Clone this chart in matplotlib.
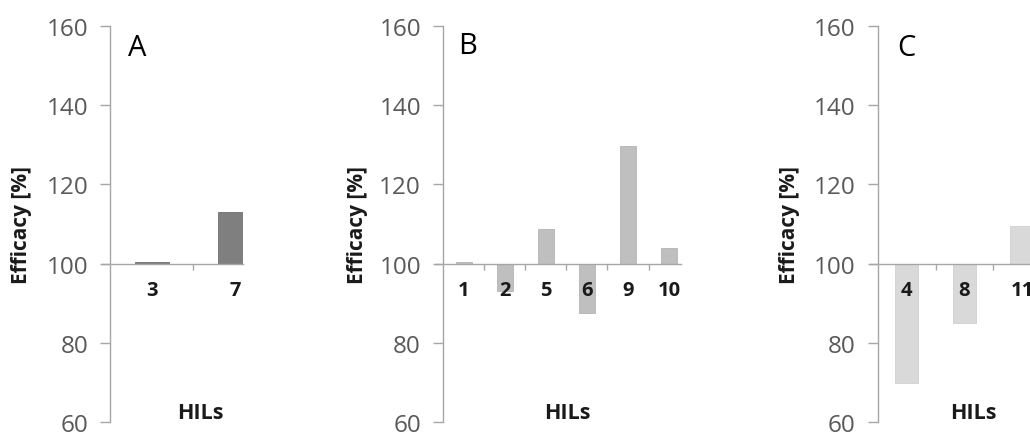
import matplotlib
matplotlib.use("Agg")
import matplotlib.pyplot as plt
from matplotlib.ticker import FixedLocator, NullFormatter

# ---- data ----
labels_a = ["3", "7"]
values_a = [100.4, 113.0]
labels_b = ["1", "2", "5", "6", "9", "10"]
values_b = [100.4, 93.0, 108.7, 87.4, 129.6, 104.0]
labels_c = ["4", "8", "11"]
values_c = [69.9, 84.9, 109.4]
panel_letters = ["A", "B", "C"]
yticks = [60, 80, 100, 120, 140, 160]

W, H = 1030, 435
fig = plt.figure(figsize=(W / 100, H / 100), dpi=100)
plt.rcParams['font.family'] = ['Open Sans', 'DejaVu Sans']

GRAY_AX = "#a6a6a6"
GRAY_TXT = "#595959"

specs = [
    dict(l=102, r=243, x0=-0.6, x1=1.096, color="#7f7f7f", edge="#6e6e6e",
         labels=labels_a, values=values_a, ylab_x=22, let_x=137, let_y=49, hils_x=200),
    dict(l=435, r=681, x0=-0.7, x1=5.29, color="#bfbfbf", edge="#b3b3b3",
         labels=labels_b, values=values_b, ylab_x=357, let_x=468, let_y=46, hils_x=567),
    dict(l=870, r=1030, x0=-0.64, x1=2.14, color="#d9d9d9", edge="#d0d0d0",
         labels=labels_c, values=values_c, ylab_x=790, let_x=906, let_y=48, hils_x=973),
]

top_px, bot_px = 27, 423
for i, s in enumerate(specs):
    ax = fig.add_axes([s["l"] / W, 1 - bot_px / H, (s["r"] - s["l"]) / W, (bot_px - top_px) / H])
    n = len(s["labels"])
    xs = list(range(n))
    heights = [v - 100 for v in s["values"]]
    ax.bar(xs, heights, bottom=100, width=0.4, color=s["color"], edgecolor=s["edge"],
           linewidth=0.6, zorder=1)
    ax.set_axisbelow(False)
    ax.set_xlim(s["x0"], s["x1"])
    ax.set_ylim(60, 160)
    ax.patch.set_visible(False)
    for sp in ["top", "right"]:
        ax.spines[sp].set_visible(False)
    ax.spines["left"].set_position(("data", -0.5))
    ax.spines["left"].set_color(GRAY_AX)
    ax.spines["left"].set_linewidth(1.0)
    ax.spines["bottom"].set_position(("data", 100))
    ax.spines["bottom"].set_color(GRAY_AX)
    ax.spines["bottom"].set_linewidth(1.0)

    ax.set_yticks(yticks)
    ax.set_yticklabels([str(t) for t in yticks])
    ax.tick_params(axis="y", direction="out", length=7, width=1.0, color=GRAY_AX,
                   labelcolor=GRAY_TXT, labelsize=17.5, pad=9)

    ax.xaxis.set_major_locator(FixedLocator([k + 0.5 for k in range(n - 1)]))
    ax.xaxis.set_major_formatter(NullFormatter())
    ax.xaxis.set_minor_locator(FixedLocator(xs))
    ax.set_xticklabels(s["labels"], minor=True)
    ax.tick_params(axis="x", which="major", direction="out", length=4, width=1.0, color=GRAY_AX)
    ax.tick_params(axis="x", which="minor", length=0, pad=12, labelsize=14.5)
    for t in ax.get_xticklabels(minor=True):
        t.set_fontweight("bold")
        t.set_color("#1a1a1a")

    fig.text(s["ylab_x"] / W, 1 - 225 / H, "Efficacy [%]", rotation=90, ha="center", va="center",
             fontsize=15, fontweight="bold", color="#1a1a1a")
    fig.text(s["let_x"] / W, 1 - s["let_y"] / H, panel_letters[i], ha="center", va="center",
             fontsize=21, color="black")
    fig.text(s["hils_x"] / W, 1 - 414 / H, "HILs", ha="center", va="center",
             fontsize=15.5, fontweight="bold", color="#1a1a1a")

fig.savefig("out.png", dpi=100)
